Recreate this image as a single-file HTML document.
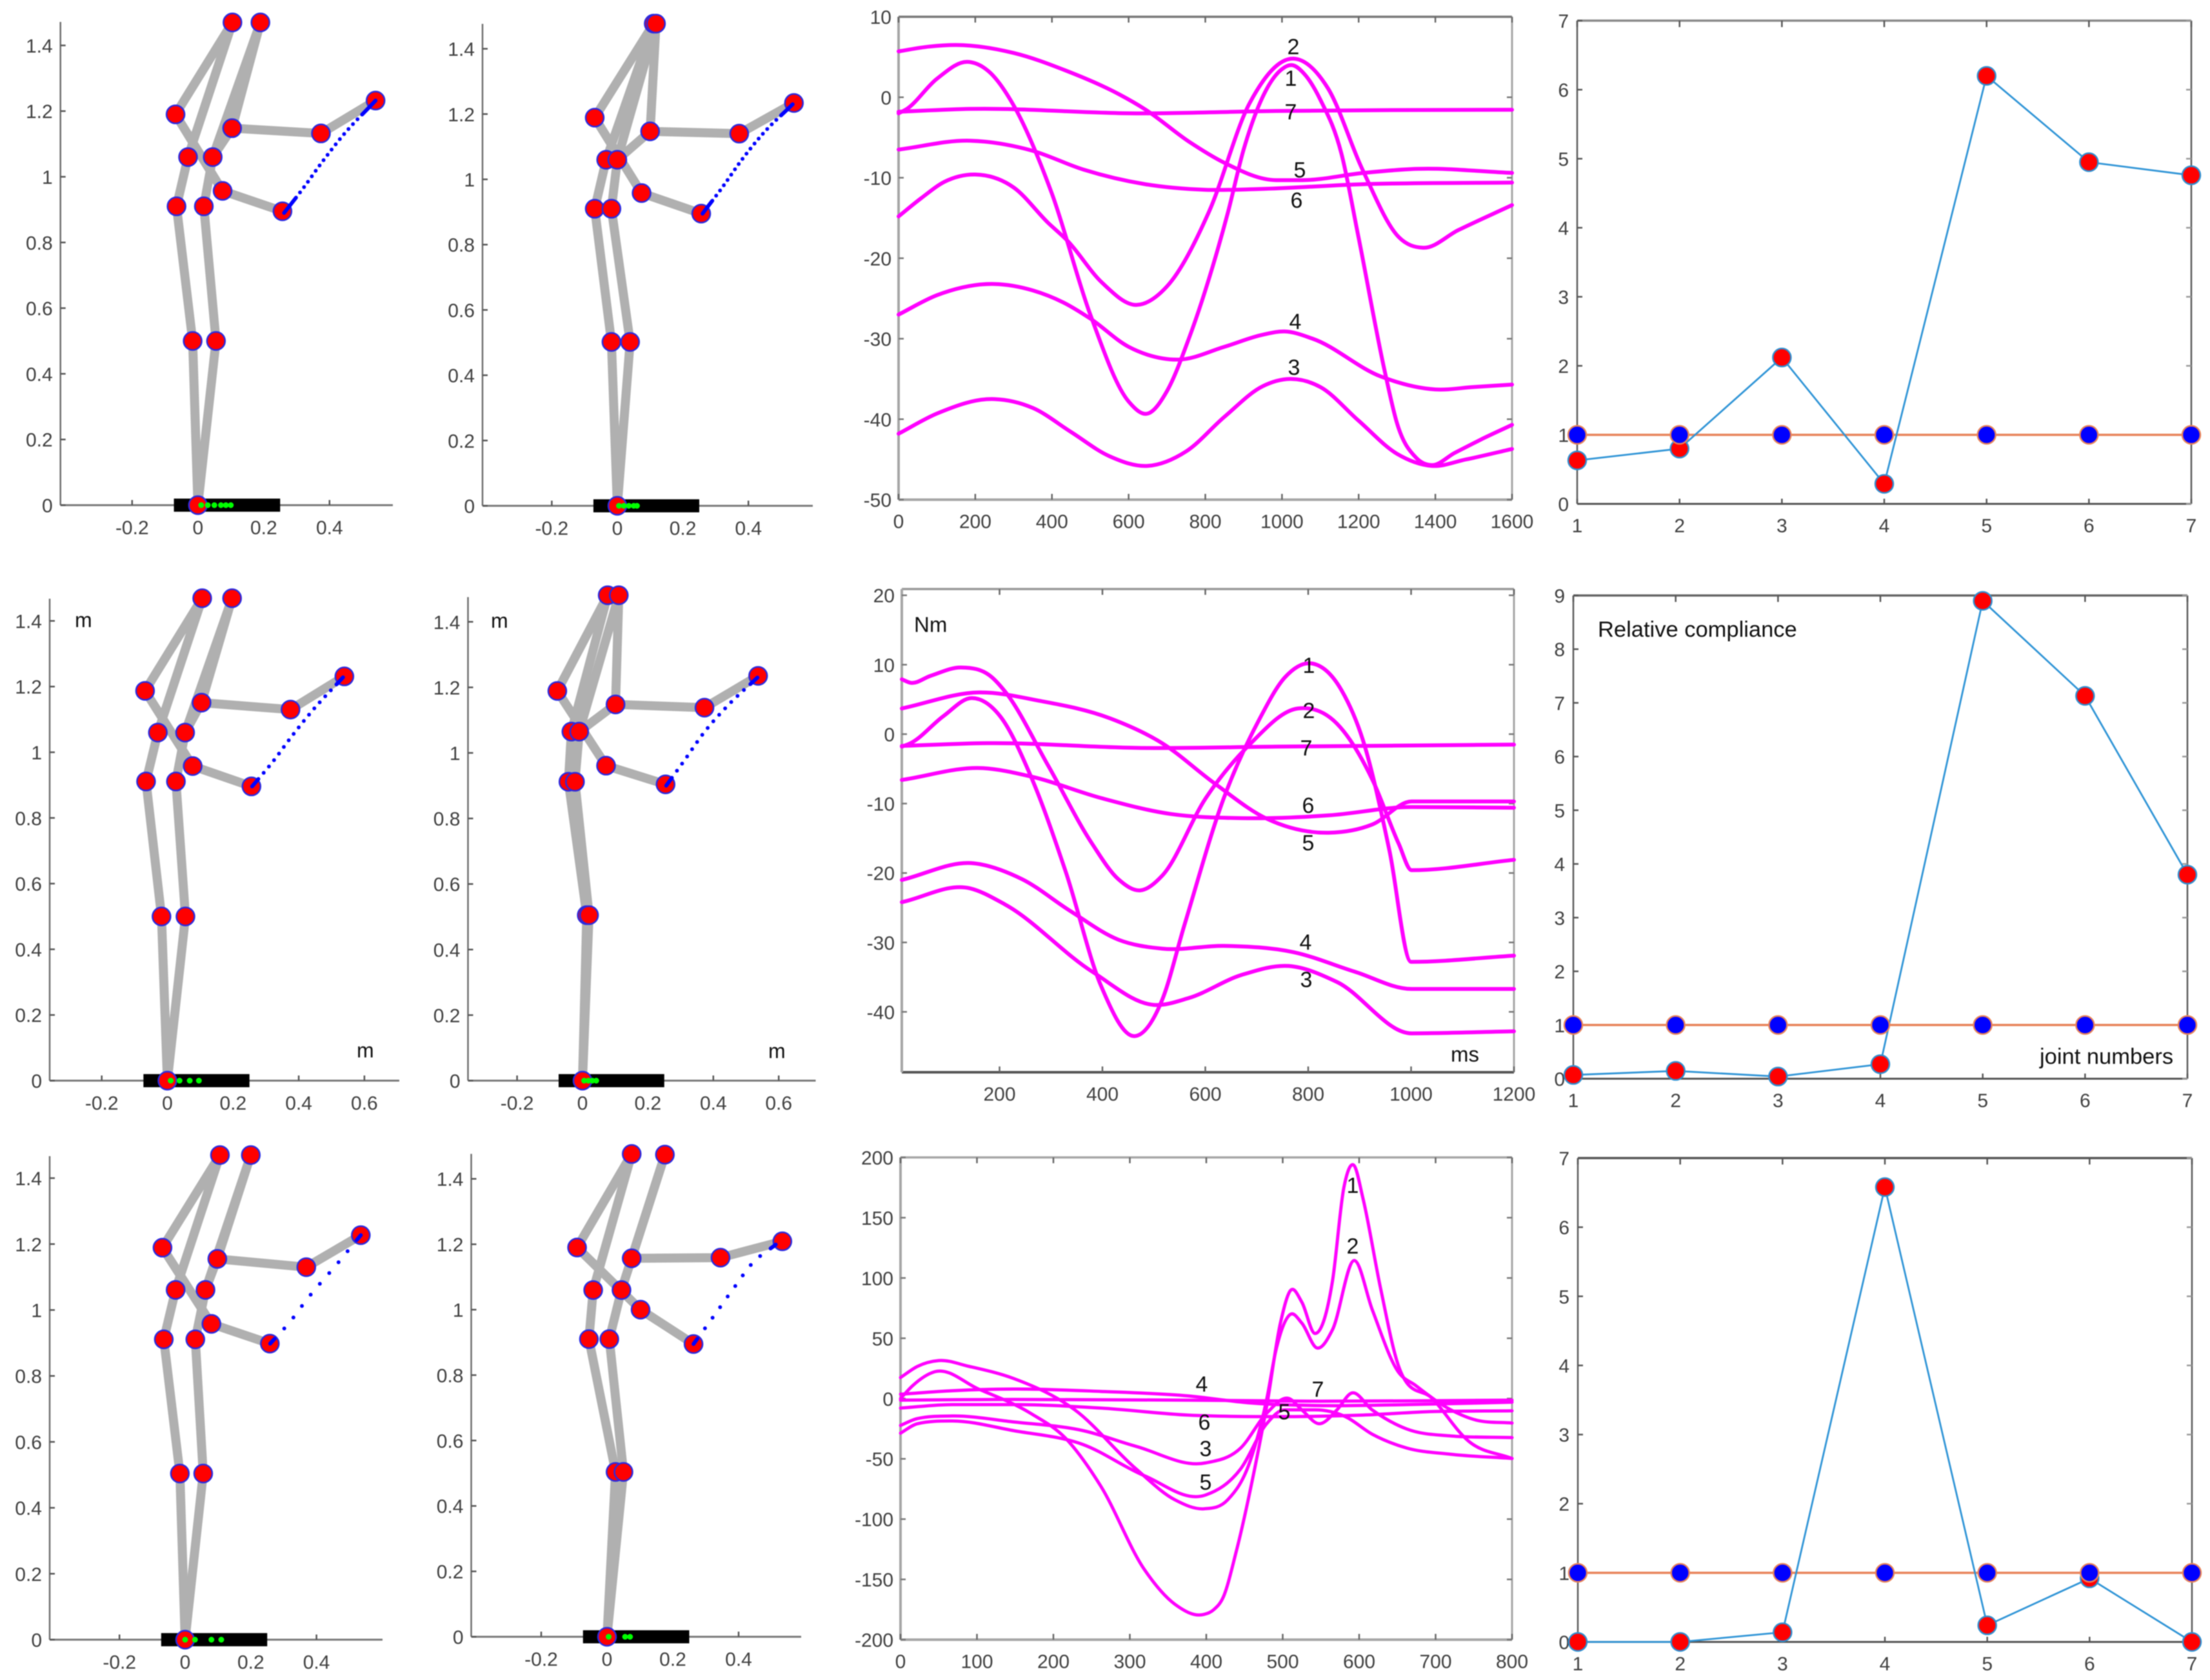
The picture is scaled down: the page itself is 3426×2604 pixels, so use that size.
<!DOCTYPE html>
<html lang="en">
<head>
<meta charset="utf-8">
<title>Skeleton postures, joint torques and relative compliance</title>
<style>
  html, body { margin: 0; padding: 0; background: #fff; }
  #figure { display: block; width: 3426px; height: 2604px; filter: blur(0.9px); }
  text { font-family: "Liberation Sans", Arial, sans-serif; }
  .tick { font-size: 30px; fill: #404040; }
  .note { font-size: 34px; fill: #111; text-anchor: middle; dominant-baseline: central; }
  .word { font-size: 34.5px; fill: #111; dominant-baseline: central; }
</style>
</head>
<body>
<svg id="figure" xmlns="http://www.w3.org/2000/svg" width="3426" height="2604" viewBox="0 0 3426 2604">
  <rect x="0" y="0" width="3426" height="2604" fill="#ffffff"/>

  <g id="a1"></g>
  <g id="a2"></g>
  <g id="a3"></g>
  <g id="a4"></g>
  <g id="a5"></g>
  <g id="a6"></g>

  <g id="m1"></g>
  <g id="m2"></g>
  <g id="m3"></g>

  <g id="r1"></g>
  <g id="r2"></g>
  <g id="r3"></g>

  <g>
    <text class="word" x="116" y="961" style="font-size:32px">m</text>
    <text class="word" x="553" y="1628" style="font-size:32px">m</text>
    <text class="word" x="761" y="962" style="font-size:32px">m</text>
    <text class="word" x="1191" y="1629" style="font-size:32px">m</text>
  </g>

  <g>
    <text class="note" x="2005" y="73">2</text>
    <text class="note" x="2001" y="122">1</text>
    <text class="note" x="2001" y="174">7</text>
    <text class="note" x="2015" y="264">5</text>
    <text class="note" x="2010" y="311">6</text>
    <text class="note" x="2008" y="499">4</text>
    <text class="note" x="2006" y="570">3</text>
  </g>
  <g>
    <text class="note" x="2029" y="1032">1</text>
    <text class="note" x="2029" y="1102">2</text>
    <text class="note" x="2025" y="1160">7</text>
    <text class="note" x="2028" y="1249">6</text>
    <text class="note" x="2028" y="1307">5</text>
    <text class="note" x="2024" y="1461">4</text>
    <text class="note" x="2025" y="1519">3</text>
    <text class="word" x="1417" y="968" style="font-size:33px">Nm</text>
    <text class="word" x="2249" y="1634" style="font-size:33px">ms</text>
  </g>
  <g>
    <text class="note" x="2097" y="1838">1</text>
    <text class="note" x="2097" y="1932">2</text>
    <text class="note" x="1863" y="2146">4</text>
    <text class="note" x="2043" y="2154">7</text>
    <text class="note" x="1991" y="2189">5</text>
    <text class="note" x="1867" y="2205">6</text>
    <text class="note" x="1869" y="2246">3</text>
    <text class="note" x="1869" y="2298">5</text>
  </g>
  <g>
    <text class="word" x="2477" y="976">Relative compliance</text>
    <text class="word" x="3162" y="1638">joint numbers</text>
  </g>
</svg>

<script>
/* ---------- skeleton data (metres) ---------- */
const skeletonLinks = [[0,1],[0,2],[1,3],[2,4],[3,5],[4,6],[5,7],[6,8],[6,12],[12,8],[7,9],[9,10],[10,11],[12,13],[13,14]];

const a1JointX = [0,-0.016,0.055,-0.065,0.018,-0.03,0.045,0.105,0.19,-0.068,0.075,0.257,0.104,0.374,0.54];
const a1JointY = [0,0.5,0.5,0.91,0.91,1.06,1.06,1.47,1.47,1.19,0.957,0.895,1.148,1.132,1.232];
const a1GreenX = [0.01,0.03,0.05,0.07,0.085,0.1];
const a1ReachX = [0.262,0.32,0.374,0.44,0.54];
const a1ReachY = [0.89,0.965,1.04,1.125,1.232];

const a2JointX = [0,-0.018,0.039,-0.069,-0.018,-0.034,0,0.111,0.118,-0.069,0.074,0.256,0.1,0.372,0.539];
const a2JointY = [0,0.502,0.502,0.91,0.91,1.06,1.06,1.477,1.477,1.189,0.958,0.895,1.147,1.14,1.234];
const a2GreenX = [0.005,0.02,0.035,0.05,0.06];
const a2ReachX = [0.26,0.32,0.38,0.44,0.535];
const a2ReachY = [0.895,0.975,1.06,1.135,1.23];

const a3JointX = [0,-0.018,0.055,-0.065,0.026,-0.029,0.054,0.106,0.197,-0.068,0.077,0.256,0.104,0.375,0.539];
const a3JointY = [0,0.5,0.5,0.911,0.911,1.06,1.06,1.469,1.469,1.187,0.958,0.896,1.151,1.13,1.231];
const a3GreenX = [0.01,0.037,0.068,0.096];
const a3ReachX = [0.258,0.32,0.38,0.44,0.535];
const a3ReachY = [0.896,0.97,1.05,1.125,1.228];

const a4JointX = [0,0.013,0.02,-0.043,-0.023,-0.034,-0.01,0.077,0.111,-0.077,0.072,0.254,0.101,0.373,0.537];
const a4JointY = [0,0.505,0.505,0.912,0.912,1.065,1.065,1.481,1.481,1.189,0.961,0.904,1.148,1.138,1.235];
const a4GreenX = [0.005,0.018,0.03,0.042];
const a4ReachX = [0.256,0.31,0.37,0.44,0.535];
const a4ReachY = [0.9,0.975,1.06,1.14,1.23];

const a5JointX = [0,-0.016,0.055,-0.065,0.031,-0.029,0.062,0.106,0.2,-0.069,0.08,0.258,0.098,0.369,0.535];
const a5JointY = [0,0.504,0.504,0.911,0.911,1.061,1.061,1.47,1.47,1.189,0.958,0.898,1.155,1.13,1.227];
const a5GreenX = [0,0.03,0.08,0.11];
const a5ReachX = [0.259,0.32,0.373,0.463,0.535];
const a5ReachY = [0.898,0.965,1.035,1.14,1.227];

const a6JointX = [0,0.026,0.05,-0.055,0.007,-0.042,0.044,0.075,0.176,-0.091,0.102,0.263,0.075,0.345,0.533];
const a6JointY = [0,0.504,0.504,0.91,0.91,1.06,1.06,1.476,1.474,1.19,1,0.895,1.157,1.159,1.209];
const a6GreenX = [0.005,0.055,0.07];
const a6ReachX = [0.263,0.31,0.386,0.44,0.513];
const a6ReachY = [0.895,0.96,1.067,1.14,1.199];

const xTicksShort = [-0.2,0,0.2,0.4];
const xTicksLong = [-0.2,0,0.2,0.4,0.6];
const yTicksSkeleton = [0,0.2,0.4,0.6,0.8,1,1.2,1.4];

/* ---------- torque chart, row 1 ---------- */
const m1S1T = [0,20,100,180,240,300,400,500,600,650,700,757,800,859,900,939,1000,1025,1060,1100,1155,1200,1270,1300,1350,1390,1450,1520,1600];
const m1S1V = [-2,-1.5,2.3,4.4,3,-1,-12,-27,-37.8,-39.3,-36.5,-30,-24,-14.3,-6.5,-1.1,3.5,4,2.8,-0.3,-7,-17.5,-34.5,-40.5,-44.8,-45.7,-44.2,-42.5,-40.7];
const m1S2T = [0,60,120,200,300,390,440,530,620,700,809,916,1030,1120,1210,1305,1368,1460,1600];
const m1S2V = [-14.8,-12.5,-10.5,-9.6,-11.2,-15.6,-17.8,-23,-25.8,-23.5,-14.3,-0.7,4.8,1.1,-9,-17.4,-18.7,-16.5,-13.4];
const m1S3T = [0,100,250,350,450,550,650,750,850,950,1020,1100,1200,1300,1390,1480,1600];
const m1S3V = [-41.8,-39.3,-37.5,-38.6,-41.6,-44.6,-45.8,-44,-39.7,-35.9,-35,-36,-40.2,-44.3,-45.8,-45,-43.7];
const m1S4T = [0,100,250,350,430,500,600,650,730,850,950,1007,1080,1258,1400,1500,1600];
const m1S4V = [-27,-24.6,-23.2,-24,-25.5,-27.5,-31,-32,-32.6,-31,-29.5,-29.1,-30,-34.7,-36.3,-36,-35.7];
const m1S5T = [0,80,150,300,437,574,643,757,848,985,1053,1213,1350,1600];
const m1S5V = [5.7,6.3,6.5,5.5,3.3,0.4,-1.5,-5.5,-8.1,-10.3,-10.3,-9.4,-8.9,-9.4];
const m1S6T = [0,187,346,483,643,802,939,1213,1600];
const m1S6V = [-6.5,-5.4,-6.6,-9,-10.8,-11.5,-11.4,-10.8,-10.6];
const m1S7T = [0,187,620,985,1600];
const m1S7V = [-1.8,-1.45,-2,-1.7,-1.55];
const m1XTicks = [0,200,400,600,800,1000,1200,1400,1600];
const m1YTicks = [10,0,-10,-20,-30,-40,-50];

/* ---------- torque chart, row 2 ---------- */
const m2S1T = [10,27,91,146,202,261,329,397,462,516,559,636,704,755,805,865,907,958,1000,1200];
const m2S1V = [-1.8,-1.3,2.6,5.2,2.5,-6.1,-19.9,-36.2,-43.5,-38.3,-27.6,-9.2,2,8.2,10.2,6.3,-1,-16.8,-32.8,-31.9];
const m2S2T = [10,27,66,125,185,210,295,380,431,474,516,601,686,780,856,925,976,1001,1200];
const m2S2V = [7.9,7.4,8.4,9.6,8.2,6.2,-4.6,-15.8,-20.9,-22.5,-20.4,-9.2,-1.5,3.7,1.5,-6.6,-15.8,-19.6,-18.1];
const m2S3T = [10,142,210,380,500,568,670,762,856,1001,1200];
const m2S3V = [-24.2,-22.2,-24.5,-34.2,-39,-38,-34.7,-33.4,-35.7,-43.1,-42.8];
const m2S4T = [10,150,244,338,431,516,636,771,890,1001,1200];
const m2S4V = [-21,-18.6,-20.9,-25.5,-29.6,-30.9,-30.5,-31.4,-34.2,-36.7,-36.7];
const m2S5T = [10,160,278,414,516,618,720,840,925,1001,1200];
const m2S5V = [3.7,6,4.8,2.3,-1.3,-7.1,-12.2,-14.2,-13,-9.7,-9.7];
const m2S6T = [10,168,261,397,533,670,840,1001,1200];
const m2S6V = [-6.6,-4.9,-6.1,-9.2,-11.5,-12.1,-11.7,-10.5,-10.6];
const m2S7T = [10,176,482,737,1200];
const m2S7V = [-1.7,-1.3,-2,-1.8,-1.5];
const m2XTicks = [200,400,600,800,1000,1200];
const m2YTicks = [20,10,0,-10,-20,-30,-40];

/* ---------- torque chart, row 3 ---------- */
const m3S1T = [0,16,45,102,170,216,262,319,359,397,410,422,439,466,479,497,510,525,542,565,580,593,605,628,651,697,743,800];
const m3S1V = [0,10.8,22.3,7.9,-12.2,-33,-72.7,-141.8,-170.6,-179,-175,-165,-127.4,-49.7,-6.5,62.6,89.5,80,54,97,175,193.6,166,91.4,28,-0.7,-35.3,-49.7];
const m3S2T = [0,22,50,90,148,228,308,359,397,428,457,479,491,510,525,545,565,594,617,651,674,720,754,800];
const m3S2V = [17.4,26.6,31.5,26.6,16.6,-9.4,-58.3,-84,-91.4,-84,-52.6,-0.7,39.6,69.8,62.6,41.9,56.9,114.5,74,22.3,10.8,-9.4,-18,-20.3];
const m3S3T = [0,22,68,148,239,308,399,445,479,508,525,548,571,590,617,662,720,800];
const m3S3V = [-22.3,-16.6,-14.5,-19.4,-26.6,-39.6,-53.4,-41,-12.2,0.1,-9.4,-20.9,-9.4,4.5,-9.4,-25.2,-31,-32.4];
const m3S4T = [0,68,148,262,376,457,560,662,800];
const m3S4V = [3.6,6.5,7.9,5.9,2.2,-3.6,-5.9,-5,-3];
const m3S5T = [0,22,68,148,239,319,399,445,479,502,542,582,617,662,720,800];
const m3S5V = [-28.7,-20.9,-18.6,-26.6,-38.2,-64,-80,-58.3,-20.9,-9.4,-9.4,-15,-29.5,-41,-46.2,-49.7];
const m3S6T = [0,68,148,262,376,491,605,697,800];
const m3S6V = [-7.9,-5,-5,-7.9,-13.7,-15,-13.7,-10.8,-10.2];
const m3S7T = [0,148,376,548,800];
const m3S7V = [-1.3,-0.7,-1.3,-2.2,-1.3];
const m3XTicks = [0,100,200,300,400,500,600,700,800];
const m3YTicks = [200,150,100,50,0,-50,-100,-150,-200];

/* ---------- compliance charts ---------- */
const jointNumbers = [1,2,3,4,5,6,7];
const referenceCompliance = [1,1,1,1,1,1,1];
const r1Compliance = [0.63,0.8,2.12,0.29,6.2,4.95,4.76];
const r2Compliance = [0.07,0.145,0.04,0.27,8.9,7.13,3.8];
const r3Compliance = [0,0,0.14,6.58,0.24,0.92,0];
const r1YTicks = [0,1,2,3,4,5,6,7];
const r2YTicks = [0,1,2,3,4,5,6,7,8,9];
const r3YTicks = [0,1,2,3,4,5,6,7];

/* ---------- helpers ---------- */
const SVG_NS = 'http://www.w3.org/2000/svg';
function make(tag, attrs, parent) {
  const node = document.createElementNS(SVG_NS, tag);
  for (const k in attrs) node.setAttribute(k, attrs[k]);
  parent.appendChild(node);
  return node;
}
function linear(d0, d1, r0, r1) {
  return v => r0 + (v - d0) * (r1 - r0) / (d1 - d0);
}
function smoothPath(xs, ys) {
  const n = xs.length, d = [], m = [];
  for (let i = 0; i < n - 1; i++) d.push((ys[i + 1] - ys[i]) / (xs[i + 1] - xs[i]));
  m[0] = d[0];
  m[n - 1] = d[n - 2];
  for (let i = 1; i < n - 1; i++) {
    const h0 = xs[i] - xs[i - 1], h1 = xs[i + 1] - xs[i];
    const a = Math.abs(d[i - 1]), b = Math.abs(d[i]);
    let c = (h1 * d[i - 1] + h0 * d[i]) / (h0 + h1);
    if (d[i - 1] * d[i] <= 0) {
      /* a true corner (steep into flat) keeps a flat tangent so it does not overshoot */
      if (Math.max(a, b) > 10 * Math.max(Math.min(a, b), 1e-6)) c = 0;
    } else {
      const limit = 3 * Math.min(a, b);
      if (Math.abs(c) > limit) c = Math.sign(c) * limit;
    }
    m[i] = c;
  }
  let p = 'M' + xs[0].toFixed(1) + ' ' + ys[0].toFixed(1);
  for (let i = 0; i < n - 1; i++) {
    const h = (xs[i + 1] - xs[i]) / 3;
    p += ' C' + (xs[i] + h).toFixed(1) + ' ' + (ys[i] + m[i] * h).toFixed(1) + ' ' +
         (xs[i + 1] - h).toFixed(1) + ' ' + (ys[i + 1] - m[i + 1] * h).toFixed(1) + ' ' +
         xs[i + 1].toFixed(1) + ' ' + ys[i + 1].toFixed(1);
  }
  return p;
}
function drawAxisLine(g, x1, y1, x2, y2, color, width) {
  const el = make('line', {x1: x1, y1: y1, x2: x2, y2: y2, stroke: color, 'stroke-width': width}, g);
  
  
}
function drawTick(g, x1, y1, x2, y2, color) {
  const el = make('line', {x1: x1, y1: y1, x2: x2, y2: y2, stroke: color, 'stroke-width': 2.5}, g);
  
  
}
function drawXLabel(g, x, y, value) {
  const el = make('text', {x: x, y: y, class: 'tick', 'text-anchor': 'middle'}, g);
  el.textContent = String(value);
  
  
}
function drawYLabel(g, x, y, value) {
  const el = make('text', {x: x, y: y + 11, class: 'tick', 'text-anchor': 'end'}, g);
  el.textContent = String(value);
  
  
}

/* ---------- skeleton plot ---------- */
function drawSkeleton(id, box, jx, jy, greenX, reachX, reachY, xTicks, dotGap, solidEnd) {
  const g = document.getElementById(id);
  const sx = v => box.zeroX + v * box.unitX;
  const sy = v => box.zeroY - v * box.unitY;

  drawAxisLine(g, box.left, box.top, box.left, box.zeroY, '#6e6e6e', 2.5);
  drawAxisLine(g, box.left, box.zeroY, box.right, box.zeroY, '#7a7a7a', 3);
  xTicks.forEach(t => {
    drawTick(g, sx(t), box.zeroY, sx(t), box.zeroY - 8, '#555');
    drawXLabel(g, sx(t), box.zeroY + 45, t);
  });
  yTicksSkeleton.forEach(t => {
    drawTick(g, box.left, sy(t), box.left + 8, sy(t), '#555');
    drawYLabel(g, box.left - 12, sy(t), t);
  });

  skeletonLinks.forEach(pair => {
    const el = make('line', {
      x1: sx(jx[pair[0]]), y1: sy(jy[pair[0]]), x2: sx(jx[pair[1]]), y2: sy(jy[pair[1]]),
      stroke: '#b0b0b0', 'stroke-width': 14, 'stroke-linecap': 'round'
    }, g);
    
    
  });

  const bar = make('rect', {
    x: sx(-0.073), y: sy(0.02), width: sx(0.25) - sx(-0.073), height: sy(-0.02) - sy(0.02), fill: '#000'
  }, g);
  
  

  jx.forEach((x, i) => {
    const el = make('circle', {
      cx: sx(x), cy: sy(jy[i]), r: 14, fill: '#ff0000', stroke: '#2a2ae0', 'stroke-width': 2.5
    }, g);
    
    
  });

  greenX.forEach(x => {
    const el = make('circle', {cx: sx(x), cy: sy(0), r: 4.5, fill: '#00ff00'}, g);
    
    
  });

  const reach = make('path', {
    d: smoothPath(reachX.map(sx), reachY.map(sy)), fill: 'none', stroke: '#0000ff',
    'stroke-width': 6, 'stroke-linecap': 'round'
  }, g);
  const total = reach.getTotalLength();
  const count = Math.max(1, Math.round((total - 2 * solidEnd) / dotGap));
  const gap = (total - 2 * solidEnd) / count;
  const dashes = [solidEnd];
  for (let i = 0; i < count - 1; i++) dashes.push(gap, 0);
  dashes.push(gap, solidEnd, 0);
  reach.setAttribute('stroke-dasharray', dashes.map(v => v.toFixed(2)).join(' '));
  
  
}

drawSkeleton('a1', {left: 93.7, right: 609, top: 34, zeroX: 306.8, unitX: 510, zeroY: 783, unitY: 509},
  a1JointX, a1JointY, a1GreenX, a1ReachX, a1ReachY, xTicksShort, 10, 30);
drawSkeleton('a2', {left: 748, right: 1260, top: 37, zeroX: 957, unitX: 508, zeroY: 784, unitY: 506},
  a2JointX, a2JointY, a2GreenX, a2ReachX, a2ReachY, xTicksShort, 10, 25);
drawSkeleton('a3', {left: 77, right: 619, top: 928, zeroX: 259.5, unitX: 509, zeroY: 1675, unitY: 509},
  a3JointX, a3JointY, a3GreenX, a3ReachX, a3ReachY, xTicksLong, 13, 15);
drawSkeleton('a4', {left: 725.5, right: 1264.5, top: 925.5, zeroX: 903, unitX: 507, zeroY: 1675, unitY: 508},
  a4JointX, a4JointY, a4GreenX, a4ReachX, a4ReachY, xTicksLong, 14, 15);
drawSkeleton('a5', {left: 77, right: 593, top: 1792, zeroX: 287, unitX: 509, zeroY: 2541.5, unitY: 511},
  a5JointX, a5JointY, a5GreenX, a5ReachX, a5ReachY, xTicksShort, 21, 10);
drawSkeleton('a6', {left: 730.5, right: 1242, top: 1788.5, zeroX: 941, unitX: 510, zeroY: 2537, unitY: 507},
  a6JointX, a6JointY, a6GreenX, a6ReachX, a6ReachY, xTicksShort, 21, 10);

/* ---------- torque chart ---------- */
function drawTorqueFrame(g, box, sx, sy, xTicks, yTicks) {
  const c = '#a6a6a6';
  drawAxisLine(g, box.left, box.top, box.right, box.top, box.topColor, 3.5);
  drawAxisLine(g, box.left, box.bottom, box.right, box.bottom, box.bottomColor, 4);
  drawAxisLine(g, box.left, box.top, box.left, box.bottom, c, 4);
  drawAxisLine(g, box.right, box.top, box.right, box.bottom, c, 3);
  xTicks.forEach(t => {
    drawTick(g, sx(t), box.bottom, sx(t), box.bottom - 9, '#666');
    drawTick(g, sx(t), box.top, sx(t), box.top + 9, '#666');
    drawXLabel(g, sx(t), box.bottom + 44, t);
  });
  yTicks.forEach(t => {
    drawTick(g, box.left, sy(t), box.left + 8, sy(t), '#777');
    drawTick(g, box.right, sy(t), box.right - 8, sy(t), '#777');
    drawYLabel(g, box.left - 11, sy(t), t);
  });
}
function drawTorqueCurve(g, sx, sy, times, values, width) {
  const el = make('path', {
    d: smoothPath(times.map(sx), values.map(sy)), fill: 'none', stroke: '#ff00ff',
    'stroke-width': width, 'stroke-linejoin': 'round', 'stroke-linecap': 'round'
  }, g);
  
  
}

(function () {
  const g = document.getElementById('m1');
  const box = {left: 1393, right: 2344, top: 26, bottom: 774.5, topColor: '#777', bottomColor: '#a6a6a6'};
  const sx = linear(0, 1600, box.left, box.right);
  const sy = linear(-50, 10, box.bottom, box.top);
  drawTorqueFrame(g, box, sx, sy, m1XTicks, m1YTicks);
  drawTorqueCurve(g, sx, sy, m1S1T, m1S1V, 6);
  drawTorqueCurve(g, sx, sy, m1S2T, m1S2V, 6);
  drawTorqueCurve(g, sx, sy, m1S3T, m1S3V, 6);
  drawTorqueCurve(g, sx, sy, m1S4T, m1S4V, 6);
  drawTorqueCurve(g, sx, sy, m1S5T, m1S5V, 6);
  drawTorqueCurve(g, sx, sy, m1S6T, m1S6V, 6);
  drawTorqueCurve(g, sx, sy, m1S7T, m1S7V, 6);
})();
(function () {
  const g = document.getElementById('m2');
  const box = {left: 1398, right: 2347, top: 913, bottom: 1662, topColor: '#999', bottomColor: '#555'};
  const sx = linear(10, 1200, box.left, box.right);
  const sy = linear(-48.7, 20.9, box.bottom, box.top);
  drawTorqueFrame(g, box, sx, sy, m2XTicks, m2YTicks);
  drawTorqueCurve(g, sx, sy, m2S1T, m2S1V, 6);
  drawTorqueCurve(g, sx, sy, m2S2T, m2S2V, 6);
  drawTorqueCurve(g, sx, sy, m2S3T, m2S3V, 6);
  drawTorqueCurve(g, sx, sy, m2S4T, m2S4V, 6);
  drawTorqueCurve(g, sx, sy, m2S5T, m2S5V, 6);
  drawTorqueCurve(g, sx, sy, m2S6T, m2S6V, 6);
  drawTorqueCurve(g, sx, sy, m2S7T, m2S7V, 6);
})();
(function () {
  const g = document.getElementById('m3');
  const box = {left: 1396, right: 2344, top: 1794, bottom: 2541.5, topColor: '#a6a6a6', bottomColor: '#a6a6a6'};
  const sx = linear(0, 800, box.left, box.right);
  const sy = linear(-200, 200, box.bottom, box.top);
  drawTorqueFrame(g, box, sx, sy, m3XTicks, m3YTicks);
  drawTorqueCurve(g, sx, sy, m3S1T, m3S1V, 5);
  drawTorqueCurve(g, sx, sy, m3S2T, m3S2V, 5);
  drawTorqueCurve(g, sx, sy, m3S3T, m3S3V, 5);
  drawTorqueCurve(g, sx, sy, m3S4T, m3S4V, 5);
  drawTorqueCurve(g, sx, sy, m3S5T, m3S5V, 5);
  drawTorqueCurve(g, sx, sy, m3S6T, m3S6V, 5);
  drawTorqueCurve(g, sx, sy, m3S7T, m3S7V, 5);
})();

/* ---------- compliance chart ---------- */
function drawCompliance(id, box, values, yTicks, yMax) {
  const g = document.getElementById(id);
  const sx = linear(1, 7, box.left, box.right);
  const sy = linear(0, yMax, box.bottom, box.top);

  drawAxisLine(g, box.left, box.top, box.right, box.top, box.topColor, 3.5);
  drawAxisLine(g, box.left, box.bottom, box.right, box.bottom, '#555', 3);
  drawAxisLine(g, box.left, box.top, box.left, box.bottom, '#5a5a5a', 2.5);
  drawAxisLine(g, box.right, box.top, box.right, box.bottom, '#5a5a5a', 2.5);
  jointNumbers.forEach(t => {
    drawTick(g, sx(t), box.bottom, sx(t), box.bottom - 8, '#555');
    drawTick(g, sx(t), box.top, sx(t), box.top + 10, '#555');
    drawXLabel(g, sx(t), box.bottom + 44, t);
  });
  yTicks.forEach(t => {
    drawTick(g, box.left, sy(t), box.left + 8, sy(t), '#555');
    drawTick(g, box.right, sy(t), box.right - 8, sy(t), '#999');
    drawYLabel(g, box.left - 13, sy(t), t);
  });

  const refLine = make('polyline', {
    points: jointNumbers.map((j, i) => sx(j) + ',' + sy(referenceCompliance[i])).join(' '),
    fill: 'none', stroke: '#e8835a', 'stroke-width': 3.5
  }, g);
  
  

  const valueLine = make('polyline', {
    points: jointNumbers.map((j, i) => sx(j) + ',' + sy(values[i])).join(' '),
    fill: 'none', stroke: '#2f94d6', 'stroke-width': 2.8
  }, g);
  
  

  jointNumbers.forEach((j, i) => {
    const el = make('circle', {
      cx: sx(j), cy: sy(values[i]), r: 14, fill: '#ff0000', stroke: '#2f8fd0', 'stroke-width': 2.5
    }, g);
    
    
  });
  jointNumbers.forEach((j, i) => {
    const el = make('circle', {
      cx: sx(j), cy: sy(referenceCompliance[i]), r: 14, fill: '#0000ff', stroke: '#e8835a', 'stroke-width': 2.5
    }, g);
    
    
  });
}
drawCompliance('r1', {left: 2445, right: 3397, top: 32, bottom: 781, topColor: '#8a8a8a'}, r1Compliance, r1YTicks, 7);
drawCompliance('r2', {left: 2439, right: 3391, top: 923, bottom: 1672, topColor: '#666'}, r2Compliance, r2YTicks, 9);
drawCompliance('r3', {left: 2446, right: 3398, top: 1795, bottom: 2545, topColor: '#555'}, r3Compliance, r3YTicks, 7);
</script>
</body>
</html>
